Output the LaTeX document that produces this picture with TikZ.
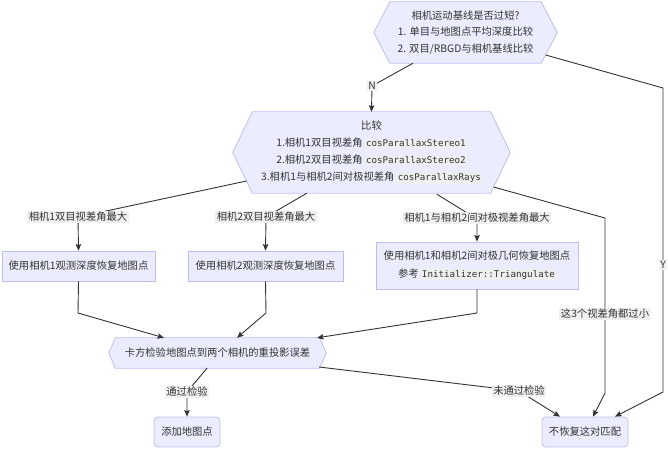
\documentclass[tikz,border=0pt]{standalone}
\usepackage{fontspec}
\setmainfont{Noto Sans CJK SC}
\setmonofont{DejaVu Sans Mono}
\usetikzlibrary{arrows.meta,calc,backgrounds}
\definecolor{nodefill}{HTML}{ECECFF}
\definecolor{nodedraw}{HTML}{BDBDEE}
\definecolor{edgecol}{HTML}{333333}
\definecolor{txtcol}{HTML}{333333}
\definecolor{lblbg}{HTML}{F0F0F0}
\definecolor{codebg}{HTML}{EFEFEF}
\newcommand\mycode[1]{{\setlength\fboxsep{1pt}\colorbox{codebg}{\ttfamily\fontsize{9.2}{10}\selectfont #1}}}
\newcommand\hexbg[2]{%
  \begin{pgfonlayer}{background}
  \draw[hexdraw] (#1.west) -- ([xshift=#2]#1.north west) -- ([xshift=-#2]#1.north east)
     -- (#1.east) -- ([xshift=-#2]#1.south east) -- ([xshift=#2]#1.south west) -- cycle;
  \end{pgfonlayer}}
\tikzset{
  hexdraw/.style={fill=nodefill,draw=nodedraw,line width=0.8pt},
  hextext/.style={draw=none,inner sep=0pt,align=center,text=txtcol},
  boxnode/.style={fill=nodefill,draw=nodedraw,line width=0.8pt,inner sep=0pt,align=center,text=txtcol,minimum height=30pt},
  roundbox/.style={boxnode,rounded corners=4pt},
  lbl/.style={fill=lblbg,inner sep=1.5pt,text=txtcol,font=\fontsize{10.3}{12}\selectfont},
  edge/.style={draw=edgecol,line width=0.9pt},
  arr/.style={edge,-{Stealth[length=6.5pt,width=5.5pt,inset=1pt]}},
}
\begin{document}
\begin{tikzpicture}[x=1pt,y=-1pt,font=\fontsize{10.3}{16.5}\selectfont]
\useasboundingbox (0,0) rectangle (668,448);

% top decision
\node[hextext,minimum width=183pt,minimum height=61pt] (q1) at (465.5,32.5)
  {相机运动基线是否过短?\\1. 单目与地图点平均深度比较\\2. 双目/RBGD与相机基线比较};
\hexbg{q1}{16}

% middle decision
\node[hextext,minimum width=277pt,minimum height=81pt,font=\fontsize{10.3}{17}\selectfont] (q2) at (371.5,152.5)
  {比较\\1.相机1双目视差角 \mycode{cosParallaxStereo1}\\2.相机2双目视差角 \mycode{cosParallaxStereo2}\\3.相机1与相机2间对极视差角 \mycode{cosParallaxRays}};
\hexbg{q2}{19.5}

% boxes
\node[boxnode,minimum width=153pt] (b1) at (78.5,266) {使用相机1观测深度恢复地图点};
\node[boxnode,minimum width=155pt] (b2) at (265.5,266) {使用相机2观测深度恢复地图点};
\node[boxnode,minimum width=202pt,minimum height=47pt,font=\fontsize{10.3}{18}\selectfont] (b3) at (477,265.5)
  {使用相机1和相机2间对极几何恢复地图点\\参考 \mycode{Initializer::Triangulate}};

% check
\node[hextext,minimum width=217pt,minimum height=30pt] (q3) at (217.5,353) {卡方检验地图点到两个相机的重投影误差};
\hexbg{q3}{6.5}

\node[roundbox,minimum width=66pt] (add) at (187,432) {添加地图点};
\node[roundbox,minimum width=86pt] (nor) at (585,432) {不恢复这对匹配};

% bend coordinates
\coordinate (cN) at (372,86);
\coordinate (cY1) at (663,88);
\coordinate (cY2) at (663,392);
\coordinate (c1) at (78,217);
\coordinate (c2) at (266,217);
\coordinate (c3) at (477,219);
\coordinate (c4a) at (605,218);
\coordinate (c4b) at (605,393);
\coordinate (d1) at (78,313);
\coordinate (d2) at (266,313);
\coordinate (d3) at (477,313);
\coordinate (cp) at (187,392);
\coordinate (cf) at (519,391);

% edges
\draw[arr] ($(q1.south)+(-52.5,0)$) -- (cN) -- (q2.north);
\draw[arr] ($(q1.east)+(-11.5,22.5)$) -- (cY1) -- (cY2) -- ($(nor.north)+(30,0)$);
\draw[arr] ($(q2.west)+(13.7,28.5)$) -- (c1) -- (b1.north);
\draw[arr] ($(q2.south west)+(74,0)$) -- (c2) -- (b2.north);
\draw[arr] ($(q2.south west)+(204,1)$) -- (c3) -- (b3.north);
\draw[arr] ($(q2.east)+(-16.6,34.5)$) -- (c4a) -- (c4b) -- ($(nor.north)+(8,0)$);
\draw[arr] (b1.south) -- (d1) -- ($(q3.north)+(-53.5,0)$);
\draw[arr] (b2.south) -- (d2) -- ($(q3.north)+(19.5,0)$);
\draw[arr] (b3.south) -- (d3) -- ($(q3.north)+(99.5,0)$);
\draw[arr] ($(q3.south)+(-10.5,0)$) -- (cp) -- (add.north);
\draw[arr] ($(q3.east)+(-7,14)$) -- (cf) -- ($(nor.north)+(-25,0)$);

% edge labels
\node[lbl] (lN) at (cN) {N};
\node[lbl] (lY) at (663,265) {Y};
\node[lbl] (l1) at (c1) {相机1双目视差角最大};
\node[lbl] (l2) at (c2) {相机2双目视差角最大};
\node[lbl] (l3) at (477,218) {相机1与相机2间对极视差角最大};
\node[lbl] (l4) at (605,314) {这3个视差角都过小};
\node[lbl] (lp) at (cp) {通过检验};
\node[lbl] (lf) at (cf) {未通过检验};
\end{tikzpicture}
\end{document}
